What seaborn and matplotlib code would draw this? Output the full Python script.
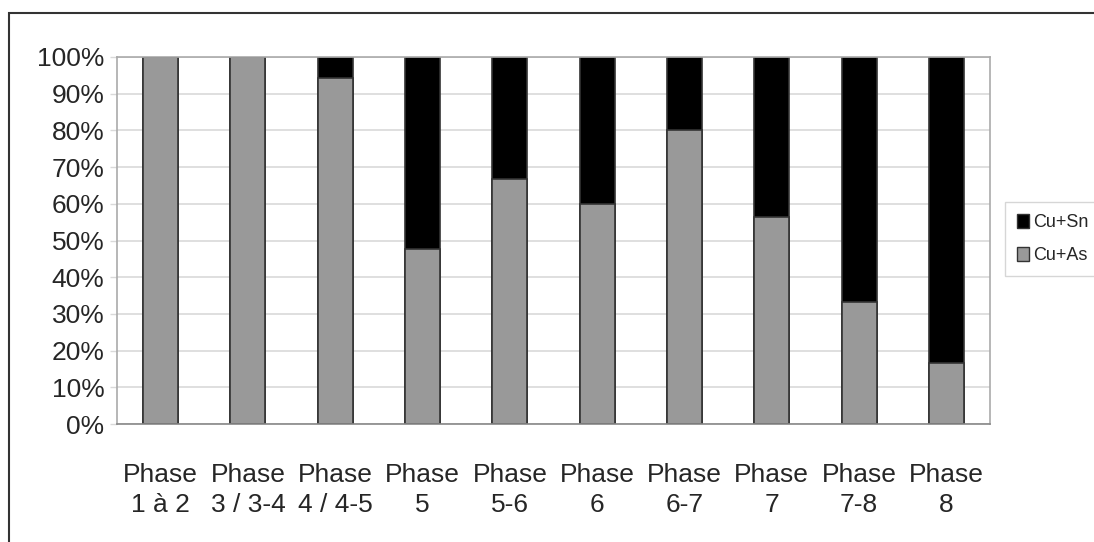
import matplotlib
matplotlib.use('Agg')
import matplotlib.pyplot as plt
import matplotlib.patches as mpatches
import seaborn as sns
import pandas as pd

# données (part en %)
phases = ['Phase\n1 à 2', 'Phase\n3 / 3-4', 'Phase\n4 / 4-5', 'Phase\n5', 'Phase\n5-6',
          'Phase\n6', 'Phase\n6-7', 'Phase\n7', 'Phase\n7-8', 'Phase\n8']
cu_as = [100, 100, 94.4, 47.6, 66.7, 60.0, 80.0, 56.5, 33.3, 16.7]
cu_sn = [0, 0, 5.6, 52.4, 33.3, 40.0, 20.0, 43.5, 66.7, 83.3]

df = pd.DataFrame({'phase': phases, 'Cu+As': cu_as, 'Cu+Sn': cu_sn})
df['total'] = df['Cu+As'] + df['Cu+Sn']

sns.set_style('white')
plt.rcParams['font.family'] = ['Liberation Sans', 'DejaVu Sans']

fig = plt.figure(figsize=(10.94, 5.42), dpi=100)
ax = fig.add_axes([117 / 1094, 1 - 424 / 542, (990 - 117) / 1094, (424 - 57) / 542])

# barres empilées : total en noir, Cu+As en gris par-dessus
sns.barplot(data=df, x='phase', y='total', color='black', width=0.4,
            edgecolor='#333333', linewidth=1.2, saturation=1, ax=ax)
sns.barplot(data=df, x='phase', y='Cu+As', color='#999999', width=0.4,
            edgecolor='#333333', linewidth=1.2, saturation=1, ax=ax)

ax.set_ylim(0, 100)
ax.set_xlim(-0.5, 9.5)
ax.set_yticks(range(0, 101, 10))
ax.set_yticklabels([f'{v}%' for v in range(0, 101, 10)], fontsize=19)
ax.yaxis.grid(True, color='#d9d9d9', linewidth=1.2)
ax.set_axisbelow(True)
ax.set_xlabel('')
ax.set_ylabel('')

# ticks x entre les catégories
ax.set_xticks(range(10))
ax.set_xticklabels(phases, fontsize=19, linespacing=1.3)
ax.set_xticks([i - 0.5 for i in range(11)], minor=True)
ax.tick_params(axis='x', which='major', length=0, pad=28)
ax.tick_params(axis='x', which='minor', length=7, color='#bbbbbb', width=1)
ax.tick_params(axis='y', length=5, color='#d9d9d9', width=1, pad=4, left=True)

for s in ax.spines.values():
    s.set_color('#aaaaaa')
    s.set_linewidth(1.2)
ax.spines['bottom'].set_color('#888888')

# légende au bord droit
handles = [mpatches.Patch(facecolor='black', edgecolor='#333333', label='Cu+Sn'),
           mpatches.Patch(facecolor='#999999', edgecolor='#333333', label='Cu+As')]
leg = fig.legend(handles=handles, loc='upper left', bbox_to_anchor=(1005 / 1094, 1 - 202 / 542),
                 fontsize=13, frameon=True, fancybox=False, handlelength=0.7, handleheight=0.8,
                 handletextpad=0.2, borderpad=0.65, labelspacing=0.9, borderaxespad=0)
leg.get_frame().set_edgecolor('#cccccc')
leg.get_frame().set_linewidth(1)

# cadre extérieur
fig.patches.append(mpatches.Rectangle((9 / 1094, -0.1), 1.2, 1 - 13 / 542 + 0.1,
                                      transform=fig.transFigure, fill=False,
                                      edgecolor='#333333', linewidth=1.5, zorder=-1))

fig.savefig('out.png', dpi=100)
